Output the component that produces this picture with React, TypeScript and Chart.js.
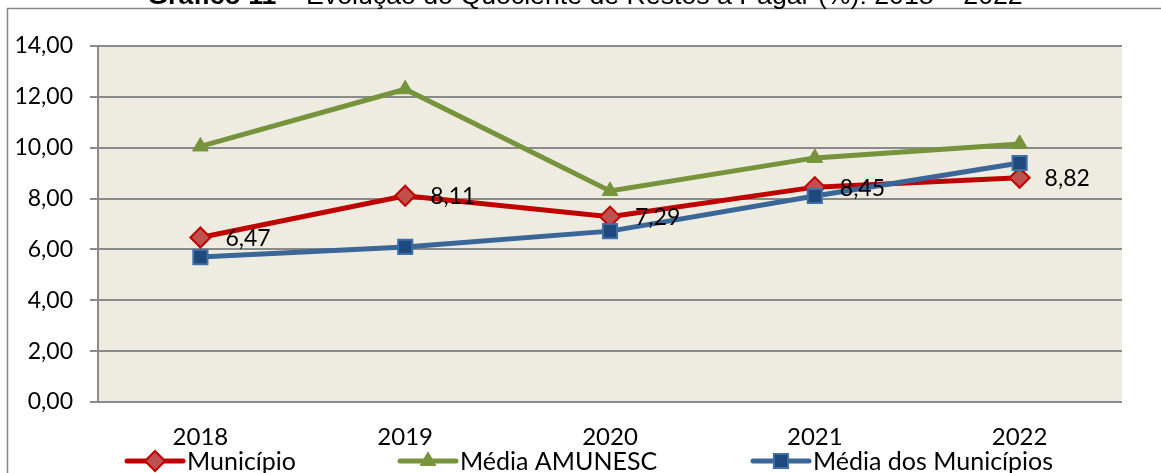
import React, { useEffect, useRef } from 'react';
import { Chart, registerables } from 'chart.js';

Chart.register(...registerables);

const categories = ['2018', '2019', '2020', '2021', '2022'];
const municipio = [6.47, 8.11, 7.29, 8.45, 8.82];
const mediaAmunesc = [10.05, 12.3, 8.3, 9.6, 10.15];
const mediaMunicipios = [5.7, 6.1, 6.72, 8.1, 9.4];
const seriesLabels = ['Município', 'Média AMUNESC', 'Média dos Municípios'];
const yTicks = [0, 2, 4, 6, 8, 10, 12, 14];
const titleBold = 'Gráfico 11';
const titleRest = ' – Evolução do Quociente de Restos a Pagar (%): 2018 – 2022';

const W = 1161;
const H = 473;
const FONT = 'Lato, "Open Sans", sans-serif';
const GRID = '#8a8a8a';
const fmt = (v: number) => v.toFixed(2).replace('.', ',');

const legendStart = [127, 400, 753];
const legendLineLen = 56;

export default function App() {
  const ref = useRef<HTMLCanvasElement | null>(null);

  useEffect(() => {
    const canvas = ref.current;
    if (!canvas) return;

    const framePlugin = {
      id: 'frame',
      beforeDraw(chart: any) {
        const { ctx, chartArea } = chart;
        ctx.save();
        ctx.fillStyle = '#ffffff';
        ctx.fillRect(0, 0, W, H);
        ctx.strokeStyle = '#868686';
        ctx.lineWidth = 1.5;
        ctx.beginPath();
        ctx.moveTo(7.5, H + 2);
        ctx.lineTo(7.5, 8.5);
        ctx.lineTo(W + 2, 8.5);
        ctx.stroke();
        ctx.fillStyle = '#EEECE1';
        ctx.fillRect(chartArea.left, chartArea.top, chartArea.right - chartArea.left, chartArea.bottom - chartArea.top);
        // title
        const tf = 26.7;
        ctx.fillStyle = '#000';
        ctx.textBaseline = 'alphabetic';
        ctx.font = `bold ${tf}px "Liberation Sans", Arial, sans-serif`;
        const wb = ctx.measureText(titleBold).width;
        ctx.font = `${tf}px "Liberation Sans", Arial, sans-serif`;
        const wr = ctx.measureText(titleRest).width;
        const x0 = 585 - (wb + wr) / 2;
        ctx.font = `bold ${tf}px "Liberation Sans", Arial, sans-serif`;
        ctx.textAlign = 'left';
        ctx.fillText(titleBold, x0, 4);
        ctx.font = `${tf}px "Liberation Sans", Arial, sans-serif`;
        ctx.fillText(titleRest, x0 + wb, 4);
        ctx.restore();
      },
    };

    const labelPlugin = {
      id: 'dlabels',
      afterDatasetsDraw(chart: any) {
        const { ctx } = chart;
        const meta = chart.getDatasetMeta(0);
        ctx.save();
        ctx.font = '23px ' + FONT;
        ctx.fillStyle = '#000';
        ctx.textAlign = 'left';
        ctx.textBaseline = 'middle';
        meta.data.forEach((pt: any, i: number) => {
          ctx.fillText(fmt(municipio[i]), pt.x + 25, pt.y + 1);
        });
        ctx.restore();
      },
    };

    const legendPlugin = {
      id: 'customLegend',
      afterDraw(chart: any) {
        const { ctx } = chart;
        const y = 461;
        ctx.save();
        chart.data.datasets.forEach((ds: any, i: number) => {
          const x1 = legendStart[i];
          const x2 = x1 + legendLineLen;
          ctx.strokeStyle = ds.borderColor;
          ctx.lineWidth = 5;
          ctx.lineCap = 'round';
          ctx.beginPath();
          ctx.moveTo(x1, y);
          ctx.lineTo(x2, y);
          ctx.stroke();
          ctx.lineCap = 'butt';
          ctx.fillStyle = ds.pointBackgroundColor;
          ctx.strokeStyle = ds.pointBorderColor;
          ctx.lineWidth = ds.pointBorderWidth;
          const cx = (x1 + x2) / 2;
          const r = ds.pointRadius;
          ctx.beginPath();
          if (ds.pointStyle === 'rectRot') {
            ctx.moveTo(cx - r, y);
            ctx.lineTo(cx, y - r);
            ctx.lineTo(cx + r, y);
            ctx.lineTo(cx, y + r);
            ctx.closePath();
          } else if (ds.pointStyle === 'triangle') {
            ctx.moveTo(cx - r * 0.866, y + r * 0.5);
            ctx.lineTo(cx, y - r);
            ctx.lineTo(cx + r * 0.866, y + r * 0.5);
            ctx.closePath();
          } else {
            const s = r * Math.SQRT1_2;
            ctx.rect(cx - s, y - s, 2 * s, 2 * s);
          }
          ctx.fill();
          ctx.stroke();
          ctx.fillStyle = '#000';
          ctx.font = '25px ' + FONT;
          ctx.textAlign = 'left';
          ctx.textBaseline = 'middle';
          ctx.fillText(ds.label, x2 + 4, y + 1);
        });
        ctx.restore();
      },
    };

    const chart = new Chart(canvas, {
      type: 'line',
      data: {
        labels: categories,
        datasets: [
          {
            label: seriesLabels[0],
            data: municipio,
            borderColor: '#C00000',
            borderWidth: 5,
            pointStyle: 'rectRot',
            pointRadius: 10,
            pointBackgroundColor: '#C0504D',
            pointBorderColor: '#C00000',
            pointBorderWidth: 2,
            order: 1,
          },
          {
            label: seriesLabels[1],
            data: mediaAmunesc,
            borderColor: '#77933C',
            borderWidth: 5,
            pointStyle: 'triangle',
            pointRadius: 9,
            pointBackgroundColor: '#77933C',
            pointBorderColor: '#77933C',
            pointBorderWidth: 1,
            order: 2,
          },
          {
            label: seriesLabels[2],
            data: mediaMunicipios,
            borderColor: '#3A6698',
            borderWidth: 5,
            pointStyle: 'rect',
            pointRadius: 10,
            pointBackgroundColor: '#1F497D',
            pointBorderColor: '#3F6FA8',
            pointBorderWidth: 2,
            order: 0,
          },
        ] as any,
      },
      options: {
        animation: false,
        responsive: false,
        layout: { padding: { left: 0, right: 39, top: 46, bottom: 0 } },
        plugins: {
          legend: { display: false },
          title: { display: false },
          tooltip: { enabled: false },
        },
        elements: { line: { tension: 0 } },
        scales: {
          x: {
            offset: true,
            grid: { display: false, drawTicks: false },
            border: { display: false },
            ticks: { color: '#000', font: { family: FONT, size: 24 }, padding: 21, maxRotation: 0 },
            afterFit(scale: any) {
              scale.height = 71;
            },
          },
          y: {
            min: 0,
            max: 14,
            afterBuildTicks(scale: any) {
              scale.ticks = yTicks.map((v) => ({ value: v }));
            },
            grid: { color: GRID, lineWidth: 2, tickLength: 8, drawTicks: true },
            border: { display: true, color: GRID, width: 2 },
            ticks: {
              color: '#000',
              font: { family: FONT, size: 23 },
              padding: 17,
              callback: (v: any) => fmt(Number(v)),
            },
            afterFit(scale: any) {
              scale.width = 98;
            },
          },
        },
      } as any,
      plugins: [framePlugin, labelPlugin, legendPlugin],
    });

    return () => chart.destroy();
  }, []);

  return (
    <div style={{ position: 'fixed', left: 0, top: 0, width: W, height: H, background: '#fff' }}>
      <canvas ref={ref} width={W} height={H} style={{ display: 'block', width: W, height: H }} />
    </div>
  );
}
